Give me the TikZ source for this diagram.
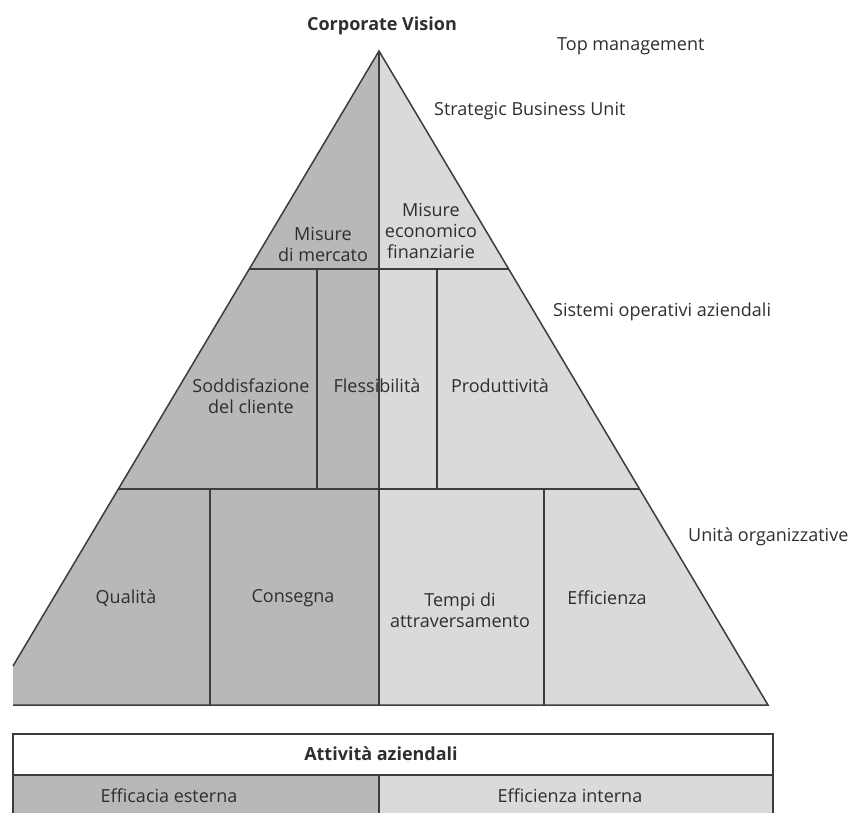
\documentclass[tikz,border=0pt]{standalone}
\usepackage{fontspec}
\setmainfont{Open Sans}
\definecolor{darkfill}{HTML}{B8B8B8}
\definecolor{lightfill}{HTML}{DADADA}
\definecolor{edge}{HTML}{3C3C3C}
\definecolor{ink}{HTML}{2E2E2E}
\begin{document}
\begin{tikzpicture}[x=1pt,y=-1pt,
  rule/.style={draw=edge,line width=1.5pt},
  cell/.style={text=ink,font=\fontsize{18}{21}\selectfont,align=center,inner sep=0pt},
  tag/.style={text=ink,font=\fontsize{18}{21}\selectfont,anchor=west,inner sep=0pt}]
\useasboundingbox (0,0) rectangle (854,812);

% corner points of the pyramid
\coordinate (apex) at (379,51);
\coordinate (bl) at (13,705);
\coordinate (cut) at (13,666);
\coordinate (br) at (768,705);
\coordinate (mid) at (379,705);
\coordinate (r1l) at (249.3,269);
\coordinate (r1r) at (508.7,269);
\coordinate (r2l) at (118.5,489);
\coordinate (r2r) at (639.5,489);

% fills: left half darker, right half lighter
\fill[darkfill] (apex) -- (cut) -- (bl) -- (mid) -- cycle;
\fill[lightfill] (apex) -- (mid) -- (br) -- cycle;

% outline and divisions
\draw[rule] (cut) -- (apex) -- (br) -- (bl);
\draw[rule] (apex) -- (mid);
\draw[rule] (r1l) -- (r1r);
\draw[rule] (r2l) -- (r2r);
\draw[rule] (317,269) coordinate (v1t) -- (317,489) coordinate (v1b);
\draw[rule] (437,269) coordinate (v2t) -- (437,489) coordinate (v2b);
\draw[rule] (210,489) coordinate (v3t) -- (210,705) coordinate (v3b);
\draw[rule] (544,489) coordinate (v4t) -- (544,705) coordinate (v4b);

% cell labels
\node[cell] (mm) at (323,244) {Misure\\di mercato};
\node[cell] (mef) at (431,231) {Misure\\economico\\finanziarie};
\node[cell] (sod) at (251,396) {Soddisfazione\\del cliente};
\node[cell] (fle) at (377,386) {Flessibilità};
\node[cell] (pro) at (500,386) {Produttività};
\node[cell] (qua) at (126,598) {Qualità};
\node[cell] (con) at (293,598) {Consegna};
\node[cell] (tem) at (460,610) {Tempi di\\attraversamento};
\node[cell] (eff) at (607,598) {Efficienza};

% level labels
\node[cell,font=\fontsize{18}{21}\selectfont\bfseries] (cv) at (382,26) {Corporate Vision};
\node[tag] (tm) at (557,46) {Top management};
\node[tag] (sbu) at (434,111) {Strategic Business Unit};
\node[tag] (soa) at (553,312) {Sistemi operativi aziendali};
\node[tag] (uo) at (688,537) {Unità organizzative};

% activity box below
\coordinate (btl) at (13,734);
\coordinate (btr) at (773,734);
\coordinate (bml) at (13,775);
\coordinate (bmr) at (773,775);
\coordinate (bmm) at (379,775);
\coordinate (bbl) at (13,813);
\coordinate (bbr) at (773,813);
\coordinate (bbm) at (379,813);
\fill[white] (btl) rectangle (bmr);
\fill[darkfill] (bml) rectangle (bbm);
\fill[lightfill] (bmm) rectangle (bbr);
\draw[rule] (bbl) -- (btl) -- (btr) -- (bbr);
\draw[rule] (bml) -- (bmr);
\draw[rule] (bmm) -- (bbm);
\node[cell,font=\fontsize{18}{21}\selectfont\bfseries] (att) at (381,754) {Attività aziendali};
\node[cell] (ee) at (169,796) {Efficacia esterna};
\node[cell] (ei) at (570,796) {Efficienza interna};
\end{tikzpicture}
\end{document}
